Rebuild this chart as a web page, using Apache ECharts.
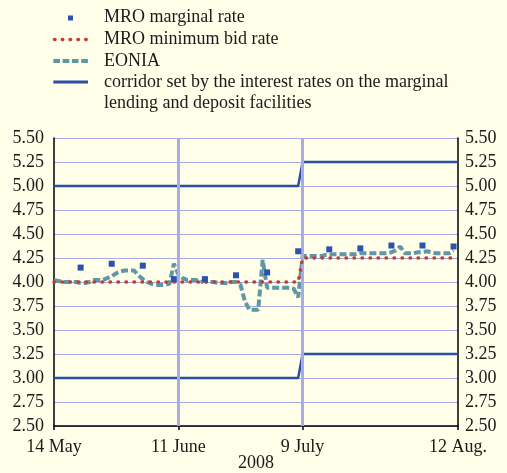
<!DOCTYPE html>
<html>
<head>
<meta charset="utf-8">
<script src="https://cdn.jsdelivr.net/npm/echarts@6/dist/echarts.min.js"></script>
<style>
html,body{margin:0;padding:0;background:#fefee9;}
#chart{width:507px;height:473px;}
</style>
</head>
<body>
<div id="chart"></div>
<script>
// Day offsets counted from 14 May 2008
const tickDays = [0, 28, 56, 91];
const tickLabels = ['14 May', '11 June', '9 July', '12 Aug.'];
const yearLabel = '2008';

const mroDays = [6, 13, 20, 27, 34, 41, 48, 55, 62, 69, 76, 83, 90];
const mroMarginal = [4.15, 4.19, 4.17, 4.03, 4.03, 4.07, 4.10, 4.32, 4.34, 4.35, 4.38, 4.38, 4.37];

const minBidDays = [0, 55, 56, 90];
const minBid = [4.00, 4.00, 4.25, 4.25];

const corridorDays = [0, 55, 56, 91];
const corridorUpper = [5.00, 5.00, 5.25, 5.25];
const corridorLower = [3.00, 3.00, 3.25, 3.25];

// EONIA, one value per calendar day from 14 May (weekends carry the previous value)
const eonia = [
  4.02, 4.01, 4.00, 4.00, 4.00, 4.00, 3.99, 3.99, 4.00, 4.02,
  4.02, 4.02, 4.04, 4.06, 4.09, 4.11, 4.12, 4.12, 4.12, 4.07,
  4.03, 4.00, 3.98, 3.97, 3.97, 3.97, 3.98, 4.19, 4.08, 4.04,
  4.02, 4.02, 4.02, 4.00, 4.01, 4.00, 4.00, 3.99, 3.99, 3.99,
  4.00, 4.00, 3.97, 3.80, 3.71, 3.71, 3.71, 4.23, 3.94, 3.94,
  3.94, 3.94, 3.94, 3.94, 3.93, 3.84, 4.27, 4.27, 4.27, 4.27,
  4.27, 4.28, 4.28, 4.29, 4.29, 4.29, 4.29, 4.29, 4.29, 4.30,
  4.30, 4.30, 4.30, 4.30, 4.30, 4.30, 4.31, 4.33, 4.37, 4.30,
  4.30, 4.30, 4.31, 4.31, 4.32, 4.31, 4.30, 4.30, 4.30, 4.30,
  4.33
];
const maintenanceStarts = [28, 56];

const legendNames = [
  'MRO marginal rate',
  'MRO minimum bid rate',
  'EONIA',
  'corridor set by the interest rates on the marginal',
  'lending and deposit facilities'
];

const FONT = '"Liberation Serif", "Times New Roman", serif';
const TXT = '#1a1a1a';
const C_MRO = '#2c52b0';
const C_BID = '#c43d2f';
const C_EON = '#6097a5';
const C_COR = '#2b4ea6';
const C_GRID = '#a9abe3';

const zip = (xs, ys) => xs.map((x, i) => [x, ys[i]]);

const chart = echarts.init(document.getElementById('chart'), null, {renderer: 'canvas'});

const yAxisCommon = {
  type: 'value', min: 2.5, max: 5.5, interval: 0.25,
  axisLine: {show: true, lineStyle: {color: '#000', width: 1.5}},
  axisTick: {show: false},
  axisLabel: {fontSize: 18, color: TXT, fontFamily: FONT, formatter: v => v.toFixed(2)}
};

const legendRows = [17.5, 39.2, 60.8, 82, 103.5];

const option = {
  backgroundColor: '#fefee9',
  animation: false,
  textStyle: {fontFamily: FONT},
  grid: {left: 54, right: 49, top: 138, bottom: 47, containLabel: false, outerBoundsMode: 'none'},
  xAxis: {
    type: 'value', min: 0, max: 91,
    axisLine: {lineStyle: {color: '#000', width: 1.5}},
    axisTick: {show: true, customValues: tickDays, length: 4, lineStyle: {color: '#000', width: 1.5}},
    axisLabel: {
      customValues: tickDays, fontSize: 18, color: TXT, fontFamily: FONT, margin: 12,
      showMinLabel: true, showMaxLabel: true,
      formatter: v => { const i = tickDays.indexOf(v); return i >= 0 ? tickLabels[i] : ''; }
    },
    splitLine: {show: false}
  },
  yAxis: [
    Object.assign({}, yAxisCommon, {position: 'left', axisLabel: Object.assign({}, yAxisCommon.axisLabel, {margin: 10}),
      splitLine: {show: true, lineStyle: {color: C_GRID, width: 1}}}),
    Object.assign({}, yAxisCommon, {position: 'right', axisLabel: Object.assign({}, yAxisCommon.axisLabel, {margin: 7}),
      splitLine: {show: false}})
  ],
  series: [
    {
      type: 'line', data: [], z: 1, silent: true,
      markLine: {
        silent: true, symbol: ['none', 'none'], label: {show: false},
        lineStyle: {color: C_GRID, width: 3, type: 'solid'},
        data: maintenanceStarts.map(d => ({xAxis: d}))
      }
    },
    {type: 'line', data: zip(corridorDays, corridorUpper), showSymbol: false, z: 3,
      lineStyle: {color: C_COR, width: 2.5}},
    {type: 'line', data: zip(corridorDays, corridorLower), showSymbol: false, z: 3,
      lineStyle: {color: C_COR, width: 2.5}},
    {type: 'line', data: eonia.map((v, i) => [i, v]), showSymbol: false, z: 4,
      lineStyle: {color: C_EON, width: 4, type: [7, 3]}},
    {type: 'line', data: zip(minBidDays, minBid), showSymbol: false, z: 5,
      lineStyle: {color: C_BID, width: 3.5, type: [0.5, 7.5], cap: 'round'}},
    {type: 'scatter', data: zip(mroDays, mroMarginal), symbol: 'rect', symbolSize: 6, z: 6,
      itemStyle: {color: C_MRO, opacity: 1}}
  ],
  graphic: [
    {type: 'rect', shape: {x: 68, y: 15.5, width: 5, height: 5}, style: {fill: C_MRO}},
    {type: 'line', shape: {x1: 54.5, y1: 39.5, x2: 88, y2: 39.5},
      style: {stroke: C_BID, lineWidth: 3.5, lineDash: [0.5, 7.3], lineCap: 'round'}},
    {type: 'line', shape: {x1: 53.3, y1: 61, x2: 88, y2: 61},
      style: {stroke: C_EON, lineWidth: 4, lineDash: [6.7, 2.6]}},
    {type: 'line', shape: {x1: 53.3, y1: 82, x2: 88, y2: 82},
      style: {stroke: C_COR, lineWidth: 3}},
    {type: 'text', x: 256, y: 463,
      style: {text: yearLabel, font: '18px ' + FONT, fill: TXT, verticalAlign: 'middle', align: 'center'}}
  ].concat(legendNames.map((t, i) => ({
    type: 'text', x: 104, y: legendRows[i],
    style: {text: t, font: '18px ' + FONT, fill: TXT, verticalAlign: 'middle', align: 'left'}
  })))
};

chart.setOption(option);
</script>
</body>
</html>
